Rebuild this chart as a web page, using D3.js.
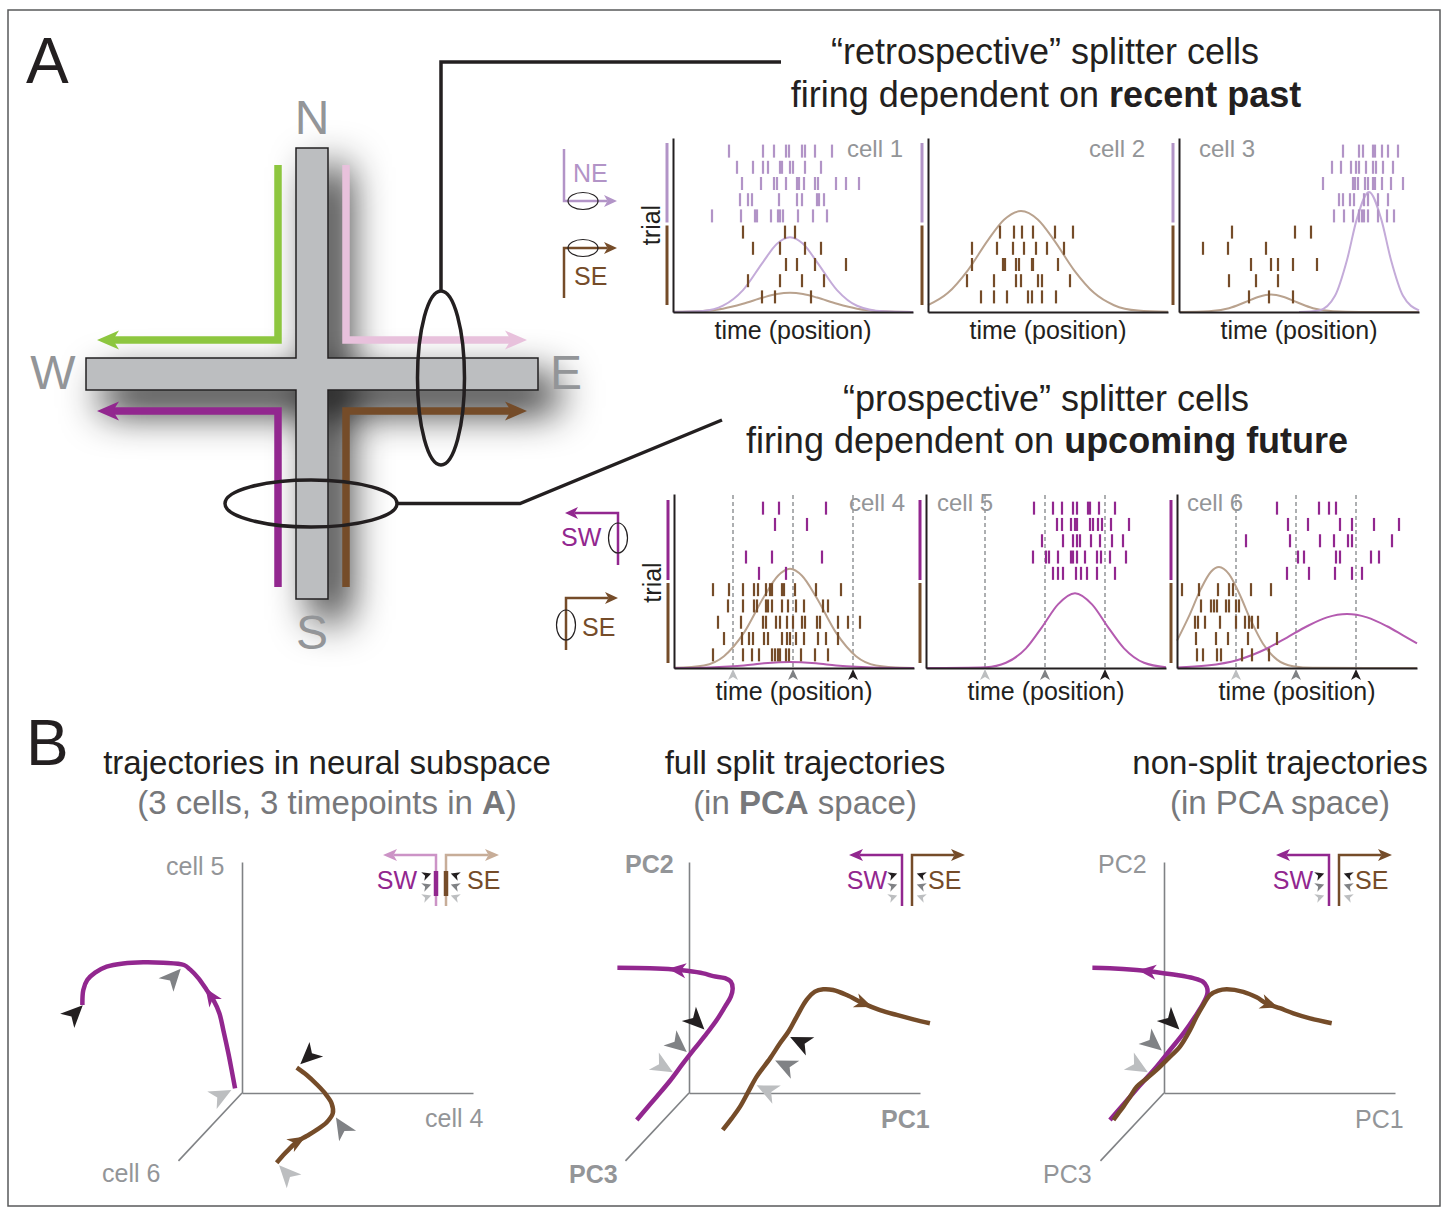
<!DOCTYPE html>
<html><head><meta charset="utf-8">
<script src="https://cdn.jsdelivr.net/npm/d3@7/dist/d3.min.js"></script>
<style>html,body{margin:0;padding:0;background:#fff}svg{display:block}</style>
</head><body>
<script>
// ================= DATA =================
// time axis of every raster panel runs 0–120 (arbitrary position units)
const timepoints = [29.5, 59.5, 89.5];
const retroLabels = ["cell 1", "cell 2", "cell 3"];
const prospLabels = ["cell 4", "cell 5", "cell 6"];
const routeLabels = ["NE", "SE", "SW"];

// spike times, one array per trial
const cell1NE = [[28,45,50.5,56.5,58,64.5,66,71,79.5],[32,40,45,47.5,53.5,54.5,58.5,60,66,74],[34.5,44,50.5,52,56.5,62,63,65.5,71,72.5,81.5,86.5,93],[33.5,37.5,39.5,53,62,64.5,72,73,75.5],[19.5,34,41,42,49,52.5,53.5,55,62.5,70,77]];
const cell1SE = [[35,56,61],[40,53.5,66,74],[56.5,62,71,86.5],[37.5,53.5,64.5,75.5],[44.5,51,69]];
const cell2NE = [[],[],[],[],[]];
const cell2SE = [[36,43,47,52.5,63.5,72.5],[22,34.5,42.5,48,54,59.5,68],[22,37.5,38.5,44,45.5,52,52.5,65],[19.5,33,44,46.5,55,57,71],[26.5,33,39.5,50,52,57,64]];
const cell3NE = [[82,90,92,97,98,101.5,104.5,109.5],[76.5,81,86,88.5,90,93.5,97,98.5,102,107],[72,87,88,89.5,93,94.5,97,98,101.5,106,112],[80,82,85.5,87.5,92.5,94.5,99.5,104.5],[77.5,82.5,87,90,91.5,92.5,94.5,99.5,104,107.5]];
const cell3SE = [[26.5,58,66],[12,24.5,43.5],[36,46,49.5,57,69],[25,38.5,49.5],[35,45,57]];
const cell4SW = [[44.5,52.5,76],[50.5,66.5],[],[36,49,74],[42.5,56]];
const cell4SE = [[19.5,27.5,34.5,40,42,46,48,49,54,55,60.5,71,83.5],[27,34.5,40,41.5,46,47,49,54,57,61,65,74.5,77],[22,33.5,44.5,46,51,53,56.5,59.5,64,65.5,71.5,73,82,87,93],[25,34,37.5,39.5,45,47,54,56.5,58,61,65,72,76,82],[19.5,34.5,39,42.5,49,50.5,52,53,56,57.5,63.5,70.5,77]];
const cell5SW = [[54,63.5,68,73.5,75.5,81,82,86.5,94.5],[65.5,68,72.5,74.5,75.5,82,83.5,86,88,92.5,101.5],[58,68.5,73.5,75.5,77,82.5,87,93,98.5],[53.5,60,61.5,66,72.5,73.5,75.5,79.5,85.5,87.5,92,100],[63.5,66,68.5,75,77.5,80.5,85.5,94.5]];
const cell5SE = [[],[],[],[],[]];
const cell6SW = [[50,71,76,79.5],[55.5,65.5,81.5,87.5,98.5,111],[34.5,56.5,71.5,78.5,85.5,87.5,107.5],[60.5,63.5,79.5,81.5,97,101],[55,66,79,87.5,92.5]];
const cell6SE = [[2.5,11,20.5,26,28,37,47],[12,17,18.5,20,24.5,26,29.5,31],[9,10.5,14,21.5,29.5,34,36,37.5,40.5],[9.5,19.5,25.5,35.5,50],[10,13,20,22,32.5,37.5,46]];

// firing-rate curves [time, rate 0–100]
const cell1RateNE = [[0,0],[15,0.6],[25,3.6],[35,12.6],[45,28.7],[52,39.2],[58.5,43],[65,39.2],[72,28.7],[82,12.6],[92,3.6],[105,0.4],[120,0]];
const cell1RateSE = [[0,0.1],[15,0.6],[25,1.9],[35,4.7],[45,8.3],[52,10.3],[58.5,11],[65,10.3],[72,8.3],[82,4.7],[92,1.9],[105,0.4],[120,0]];
const cell2RateSE = [[0,3.9],[10,11],[20,24.1],[30,41.3],[38,53],[46.5,58],[55,53],[63,41.3],[73,24.1],[83,11],[93,3.9],[105,0.8],[120,0.1]];
const cell3RateSE = [[0,0],[15,0.4],[25,2.2],[33,5.6],[40,8.8],[46,10],[52,8.8],[59,5.6],[67,2.2],[77,0.4],[90,0],[120,0]];
const cell3RateNE = [[60,0],[70,0.9],[78,9.3],[84,29.9],[89,53.8],[95,69],[101,53.8],[106,29.9],[112,9.3],[120,0.9]];
const cell4RateSE = [[0,0.1],[15,1.5],[25,6.8],[35,20.3],[45,41],[52,53],[58,57],[64,53],[71,41],[81,20.3],[91,6.8],[101,1.5],[115,0.1],[120,0]];
const cell4RateSW = [[0,0],[15,0.2],[25,0.65],[35,1.5],[45,2.7],[58,3.5],[71,2.7],[81,1.5],[91,0.65],[101,0.2],[120,0]];
const cell5RateSW = [[0,0],[30,0.5],[40,3],[50,11.3],[58,23.5],[66,36.6],[74.5,43],[83,36.6],[91,23.5],[99,11.3],[109,3],[120,0.45]];
const cell6RateSE = [[0,15.7],[6,29.8],[12,45.6],[17,55.3],[21,58],[26,53.9],[31,43.1],[37,27.2],[43,13.9],[50,4.8],[58,1],[68,0.1],[120,0]];
const cell6RateSW = [[0,0.3],[15,1.4],[30,4.5],[45,11.2],[55,17.5],[65,24],[75,29.1],[85,31],[95,29.1],[105,24],[113,18.8],[120,14.2]];

// trajectories, projected [horizontal axis, vertical axis] (0–100 = axis length)
const subspaceSW = [[-3.0,2.0],[-4.5,10.0],[-5.9,17.2],[-8.1,27.3],[-9.8,34.5],[-12.4,40.3],[-15.3,44.6],[-18.9,49.7],[-22.5,53.5],[-25.1,55.4],[-34.1,56.4],[-42.7,56.6],[-51.4,56.1],[-58.6,54.7],[-63.6,52.1],[-67.0,48.9],[-68.7,44.6],[-69.1,38.1]];
const subspaceSE = [[15.0,-30.2],[17.9,-26.8],[20.8,-23.9],[23.7,-21.1],[28.0,-18.6],[32.3,-16.0],[36.6,-12.8],[39.3,-8.8],[38.8,-4.5],[35.9,-0.1],[32.3,3.8],[28.0,7.8],[23.7,11.0]];
const splitSW = [[-22.6,-11.7],[-18.3,-6.6],[-14.0,-1.6],[-8.2,5.3],[-2.5,12.9],[2.6,19.4],[7.7,25.8],[12.0,31.6],[15.6,37.4],[18.1,41.7],[18.9,45.3],[18.1,48.2],[15.6,49.7],[10.5,50.6],[6.2,51.8],[-1.0,52.9],[-6.8,53.5],[-16.9,54.0],[-31.0,54.2]];
const splitSE = [[14.6,-16.0],[18.5,-11.0],[22.1,-5.9],[25.7,0.6],[29.3,7.1],[35.1,15.0],[39.4,21.5],[43.0,26.5],[46.6,33.0],[50.9,40.3],[54.5,43.9],[58.1,44.9],[62.4,44.6],[68.3,42.4],[75.4,38.8],[82.7,35.9],[89.9,33.8],[97.1,31.9],[104.3,30.2]];
const nonsplitSW = [[-23.4,-11.7],[-19.0,-6.6],[-14.7,-1.6],[-9.0,4.9],[-3.2,11.4],[2.6,18.6],[8.4,25.8],[13.4,33.0],[17.0,38.8],[18.8,43.2],[18.5,46.0],[16.8,48.2],[12.7,49.7],[5.5,51.1],[-1.7,52.1],[-11.8,53.2],[-23.4,54.0],[-31.0,54.2]];
const nonsplitSE = [[-21.9,-11.7],[-19.8,-8.8],[-17.6,-5.9],[-14.7,-1.6],[-11.8,2.7],[-7.5,6.3],[-3.2,10.0],[1.9,15.0],[6.9,20.1],[11.3,27.3],[14.1,33.0],[17.0,38.1],[19.9,42.4],[23.5,44.3],[27.1,44.9],[34.3,43.8],[40.1,41.4],[44.4,38.8],[50.2,36.7],[56.0,34.5],[63.2,32.3],[72.6,30.2]];
// timepoint markers (early, middle, late) near each trajectory
const subspaceMarkSW = [[-8.8,-0.9],[-29.7,50.3],[-72.3,34.6]];
const subspaceMarkSE = [[19.3,-34.8],[43.2,-14.6],[28.7,15.7]];
const splitMarkSW = [[-11.1,11.4],[-4.6,20.8],[3.3,30.9]];
const splitMarkSE = [[33.6,1.3],[41.6,12.1],[48.1,22.2]];
const nonsplitMarkSW = [[-11.1,11.4],[-4.6,21.5],[3.3,30.9]];
const axisNamesB = [["cell 4","cell 5","cell 6"],["PC1","PC2","PC3"],["PC1","PC2","PC3"]];

// ================= STYLE =================
const COL = {ink:"#231f20", gray:"#939598", axisGray:"#808285", light:"#bcbec0",
  purple:"#92278f", lav:"#b294c7", lavCurve:"#c4abd9", brown:"#754c29", tan:"#b9a28e", magCurve:"#b45bb0",
  green:"#8dc63f", pink:"#e8c1dc", maze:"#bcbec0", purpleSoft:"#cc93c6", brownSoft:"#c7ad98", sub:"#77787b"};
const MARK = [COL.light, COL.axisGray, COL.ink];
const FONT = "'Liberation Sans', Arial, Helvetica, sans-serif";

const svg = d3.select("body").append("svg").attr("width",1447).attr("height",1207).style("font-family",FONT);
const defs = svg.append("defs");
const fl = defs.append("filter").attr("id","shadow").attr("x","-50%").attr("y","-50%").attr("width","210%").attr("height","210%");
fl.append("feGaussianBlur").attr("in","SourceAlpha").attr("stdDeviation",20).attr("result","blur");
fl.append("feOffset").attr("in","blur").attr("dx",18).attr("dy",20).attr("result","off");
fl.append("feFlood").attr("flood-color","#000").attr("flood-opacity",0.95).attr("result","fc");
fl.append("feComposite").attr("in","fc").attr("in2","off").attr("operator","in").attr("result","sh");
const fm = fl.append("feMerge"); fm.append("feMergeNode").attr("in","sh"); fm.append("feMergeNode").attr("in","SourceGraphic");

svg.append("rect").attr("x",8).attr("y",10).attr("width",1432).attr("height",1196)
  .attr("fill","none").attr("stroke","#58595b").attr("stroke-width",1.5);

// ---------- helpers ----------
function barb(len, half, notch){ return `M0,0L${-len},${-half}L${-len+notch},0L${-len},${half}Z`; }
function arrowAt(g, x, y, ang, len, half, notch, color){
  g.append("path").attr("d",barb(len,half,notch)).attr("transform",`translate(${x},${y}) rotate(${ang})`).attr("fill",color);
}
function arrowLine(g, pts, color, width, len, half, notch){
  const n = pts.length, [x1,y1] = pts[n-2], [x2,y2] = pts[n-1];
  const a = Math.atan2(y2-y1, x2-x1), back = len-notch;
  const p = pts.slice(0,n-1).concat([[x2-Math.cos(a)*back, y2-Math.sin(a)*back]]);
  g.append("path").attr("d",d3.line()(p)).attr("fill","none").attr("stroke",color).attr("stroke-width",width).attr("stroke-linejoin","miter");
  arrowAt(g, x2, y2, a*180/Math.PI, len, half, notch, color);
}
function txt(g, x, y, s, o={}){
  const t = g.append("text").attr("x",x).attr("y",y).text(s).attr("font-size",o.size||25)
    .attr("fill",o.fill||COL.ink).attr("text-anchor",o.anchor||"start");
  if(o.weight) t.attr("font-weight",o.weight);
  return t;
}
function rich(g, x, y, parts, o={}){
  const t = g.append("text").attr("x",x).attr("y",y).attr("font-size",o.size||25)
    .attr("fill",o.fill||COL.ink).attr("text-anchor",o.anchor||"middle");
  parts.forEach(([s,b])=>t.append("tspan").text(s).attr("font-weight",b?700:400));
  return t;
}

// ---------- panel letters ----------
txt(svg, 26, 83, "A", {size:64});
txt(svg, 26, 765, "B", {size:64});

// ---------- maze ----------
const maze = svg.append("g");
maze.append("path").attr("d","M296,148H328V358H538V390H328V599H296V390H86V358H296Z")
  .attr("fill",COL.maze).attr("stroke",COL.ink).attr("stroke-width",1.5).attr("filter","url(#shadow)");
arrowLine(maze, [[278,165],[278,340],[97,340]], COL.green, 7.5, 22, 9.5, 6);
arrowLine(maze, [[346,165],[346,340],[527,340]], COL.pink, 7.5, 22, 9.5, 6);
arrowLine(maze, [[278,587],[278,411],[97,411]], COL.purple, 7.5, 22, 9.5, 6);
arrowLine(maze, [[346,587],[346,411],[527,411]], COL.brown, 7.5, 22, 9.5, 6);
[["N",312,134],["S",312,649],["W",53,389],["E",566,389]].forEach(([s,x,y])=>txt(maze,x,y,s,{size:48,fill:COL.gray,anchor:"middle"}));
maze.append("ellipse").attr("cx",441).attr("cy",378).attr("rx",23.5).attr("ry",87).attr("fill","none").attr("stroke",COL.ink).attr("stroke-width",3.5);
maze.append("ellipse").attr("cx",311).attr("cy",503.5).attr("rx",86).attr("ry",23.5).attr("fill","none").attr("stroke",COL.ink).attr("stroke-width",3.5);
maze.append("path").attr("d","M441,291V62H781").attr("fill","none").attr("stroke",COL.ink).attr("stroke-width",3.5);
maze.append("path").attr("d","M397,503.5H520L722,420").attr("fill","none").attr("stroke",COL.ink).attr("stroke-width",3.5);

// ---------- A titles ----------
rich(svg, 1045, 64, [["“retrospective” splitter cells",0]], {size:36});
rich(svg, 1046, 107, [["firing dependent on ",0],["recent past",1]], {size:36});
rich(svg, 1046, 411, [["“prospective” splitter cells",0]], {size:36});
rich(svg, 1047, 453, [["firing dependent on ",0],["upcoming future",1]], {size:36});

// ---------- A route legends ----------
const lg = svg.append("g");
arrowLine(lg, [[564,149],[564,201],[617,201]], COL.lav, 2.5, 13, 6, 3.5);
txt(lg, 573, 182, routeLabels[0], {fill:COL.lav});
lg.append("ellipse").attr("cx",583).attr("cy",201).attr("rx",15).attr("ry",8.5).attr("fill","none").attr("stroke",COL.ink).attr("stroke-width",1.2);
arrowLine(lg, [[564,298],[564,248],[617,248]], COL.brown, 2.5, 13, 6, 3.5);
txt(lg, 574, 285, routeLabels[1], {fill:COL.brown});
lg.append("ellipse").attr("cx",583).attr("cy",248).attr("rx",15).attr("ry",8.5).attr("fill","none").attr("stroke",COL.ink).attr("stroke-width",1.2);
arrowLine(lg, [[618,565],[618,513],[565,513]], COL.purple, 2.5, 13, 6, 3.5);
txt(lg, 561, 546, routeLabels[2], {fill:COL.purple});
lg.append("ellipse").attr("cx",618).attr("cy",538).attr("rx",9.5).attr("ry",15).attr("fill","none").attr("stroke",COL.ink).attr("stroke-width",1.2);
arrowLine(lg, [[566,650],[566,598],[618,598]], COL.brown, 2.5, 13, 6, 3.5);
txt(lg, 582, 636, routeLabels[1], {fill:COL.brown});
lg.append("ellipse").attr("cx",566).attr("cy",625).attr("rx",9.5).attr("ry",15).attr("fill","none").attr("stroke",COL.ink).attr("stroke-width",1.2);

// ---------- raster panels ----------
function rasterPanel(c){
  const g = svg.append("g");
  const x = d3.scaleLinear().domain([0,120]).range([c.axisX, c.axisX+240]);
  const r = d3.scaleLinear().domain([0,100]).range([c.base, c.base-174]);
  const rows = d3.scaleBand().domain(d3.range(10)).range(c.rowRange);
  const bw = rows.bandwidth();
  g.append("line").attr("x1",c.axisX-6).attr("x2",c.axisX-6).attr("y1",rows(0)).attr("y2",rows(4)+bw-1.5).attr("stroke",c.topColor).attr("stroke-width",3);
  g.append("line").attr("x1",c.axisX-6).attr("x2",c.axisX-6).attr("y1",rows(5)+1.5).attr("y2",rows(9)+bw).attr("stroke",COL.brown).attr("stroke-width",3);
  if(c.dashed){
    g.selectAll(null).data(timepoints).enter().append("line")
      .attr("x1",d=>x(d)).attr("x2",d=>x(d)).attr("y1",c.base-173).attr("y2",c.base)
      .attr("stroke",COL.gray).attr("stroke-width",1.5).attr("stroke-dasharray","4,3");
  }
  const ln = d3.line().x(p=>x(p[0])).y(p=>r(p[1])).curve(d3.curveMonotoneX);
  c.rates.forEach(([d,col])=>g.append("path").datum(d).attr("d",ln).attr("fill","none").attr("stroke",col).attr("stroke-width",2));
  const trials = c.top.map((s,i)=>({i, s, col:c.topColor})).concat(c.bot.map((s,i)=>({i:i+5, s, col:COL.brown})));
  trials.forEach(tr=>{
    g.selectAll(null).data(tr.s).enter().append("rect")
      .attr("x",t=>x(t)-1.1).attr("y",rows(tr.i)+bw/2-6.5).attr("width",2.2).attr("height",13).attr("fill",tr.col);
  });
  const ax = g.append("g").attr("transform",`translate(0,${c.base})`).call(d3.axisBottom(x).tickValues([]).tickSizeOuter(0));
  const ay = g.append("g").attr("transform",`translate(${c.axisX},0)`).call(d3.axisLeft(r).tickValues([]).tickSizeOuter(0));
  [ax,ay].forEach(a=>a.select(".domain").attr("stroke",COL.ink).attr("stroke-width",2));
  if(c.dashed) timepoints.forEach((t,i)=>arrowAt(g, x(t), c.base+1, -90, 11, 5, 3, MARK[i]));
  txt(g, c.axisX+c.lx, c.labelY, c.label, {size:24, fill:COL.gray, anchor:c.anchor});
  txt(g, c.axisX+120, c.base+(c.dashed?32:27), "time (position)", {size:25, anchor:"middle"});
  if(c.trial) g.append("text").attr("transform",`translate(${c.axisX-13},${(c.rowRange[0]+c.rowRange[1])/2+1}) rotate(-90)`)
    .attr("text-anchor","middle").attr("font-size",25).attr("fill",COL.ink).text("trial");
}
const topCfg = {base:312, rowRange:[143,305], topColor:COL.lav, labelY:157, dashed:false};
rasterPanel({...topCfg, axisX:673, top:cell1NE, bot:cell1SE, rates:[[cell1RateSE,COL.tan],[cell1RateNE,COL.lavCurve]], label:retroLabels[0], lx:230, anchor:"end", trial:true});
rasterPanel({...topCfg, axisX:928, top:cell2NE, bot:cell2SE, rates:[[cell2RateSE,COL.tan]], label:retroLabels[1], lx:217, anchor:"end"});
rasterPanel({...topCfg, axisX:1179, top:cell3NE, bot:cell3SE, rates:[[cell3RateSE,COL.tan],[cell3RateNE,COL.lavCurve]], label:retroLabels[2], lx:20, anchor:"start"});
const botCfg = {base:668, rowRange:[500,663], topColor:COL.purple, labelY:511, dashed:true};
rasterPanel({...botCfg, axisX:674, top:cell4SW, bot:cell4SE, rates:[[cell4RateSE,COL.tan],[cell4RateSW,COL.magCurve]], label:prospLabels[0], lx:231, anchor:"end", trial:true});
rasterPanel({...botCfg, axisX:926, top:cell5SW, bot:cell5SE, rates:[[cell5RateSW,COL.magCurve]], label:prospLabels[1], lx:11, anchor:"start"});
rasterPanel({...botCfg, axisX:1177, top:cell6SW, bot:cell6SE, rates:[[cell6RateSE,COL.tan],[cell6RateSW,COL.magCurve]], label:prospLabels[2], lx:10, anchor:"start"});

// ---------- B titles ----------
rich(svg, 327, 774, [["trajectories in neural subspace",0]], {size:33});
rich(svg, 327, 814, [["(3 cells, 3 timepoints in ",0],["A",1],[")",0]], {size:33, fill:COL.sub});
rich(svg, 805, 774, [["full split trajectories",0]], {size:33});
rich(svg, 805, 814, [["(in ",0],["PCA",1],[" space)",0]], {size:33, fill:COL.sub});
rich(svg, 1280, 774, [["non-split trajectories",0]], {size:33});
rich(svg, 1280, 814, [["(in PCA space)",0]], {size:33, fill:COL.sub});

// ---------- trajectory panels ----------
const chev = "M4.5,0L-4.5,-4.5L-2,0L-4.5,4.5Z";
const dart = "M11,0L-11,-10L-5,0L-11,10Z";
function trajPanel(c){
  const g = svg.append("g");
  const x = d3.scaleLinear().domain([0,100]).range([c.ox, c.ox+231]);
  const y = d3.scaleLinear().domain([0,100]).range([c.oy, c.oy-231]);
  const ax = g.append("g").attr("transform",`translate(0,${c.oy})`).call(d3.axisBottom(x).tickValues([]).tickSizeOuter(0));
  const ay = g.append("g").attr("transform",`translate(${c.ox},0)`).call(d3.axisLeft(y).tickValues([]).tickSizeOuter(0));
  [ax,ay].forEach(a=>a.select(".domain").attr("stroke",COL.axisGray).attr("stroke-width",1.6));
  g.append("line").attr("x1",x(0)).attr("y1",y(0)).attr("x2",x(-27.5)).attr("y2",y(-29.4)).attr("stroke",COL.axisGray).attr("stroke-width",1.6);
  const names = c.names, wt = c.bold ? 700 : 400;
  txt(g, c.lab[0][0], c.lab[0][1], names[0], {fill:COL.gray, weight:wt});
  txt(g, c.lab[1][0], c.lab[1][1], names[1], {fill:COL.gray, weight:wt});
  txt(g, c.lab[2][0], c.lab[2][1], names[2], {fill:COL.gray, weight:wt});
  const line = d3.line().x(d=>x(d[0])).y(d=>y(d[1])).curve(d3.curveCatmullRom.alpha(0.5));
  c.trajs.forEach(t=>{
    g.append("path").datum(t.d).attr("d",line).attr("fill","none").attr("stroke",t.col).attr("stroke-width",4.5);
    const i = Math.floor(t.f), fr = t.f-i, a = t.d[i], b = t.d[i+1];
    const px = x(a[0]+(b[0]-a[0])*fr), py = y(a[1]+(b[1]-a[1])*fr);
    const ang = Math.atan2(y(b[1])-y(a[1]), x(b[0])-x(a[0]));
    arrowAt(g, px+Math.cos(ang)*8, py+Math.sin(ang)*8, ang*180/Math.PI, 18, 7.5, 5, t.col);
  });
  c.marks.forEach(mk=>{
    g.selectAll(null).data(mk.d).enter().append("path").attr("d",dart)
      .attr("transform",(d,i)=>`translate(${x(d[0])},${y(d[1])}) rotate(${mk.ang[i]})`).attr("fill",(d,i)=>MARK[i]);
  });
  // route legend inset
  const L = c.leg, sw = L.soft ? COL.purpleSoft : COL.purple, se = L.soft ? COL.brownSoft : COL.brown;
  arrowLine(g, [[L.b,906],[L.b,855],[L.b-53,855]], sw, 2.5, 14, 6, 3.5);
  arrowLine(g, [[L.b+10,906],[L.b+10,855],[L.b+63,855]], se, 2.5, 14, 6, 3.5);
  if(L.soft){
    g.append("line").attr("x1",L.b).attr("x2",L.b).attr("y1",871).attr("y2",896).attr("stroke",COL.purple).attr("stroke-width",4.5);
    g.append("line").attr("x1",L.b+10).attr("x2",L.b+10).attr("y1",871).attr("y2",896).attr("stroke",COL.brown).attr("stroke-width",4.5);
  }
  txt(g, L.swEnd, 889, "SW", {fill:COL.purple, anchor:"end"});
  txt(g, L.seStart, 889, "SE", {fill:COL.brown});
  [875,886,897].forEach((yy,i)=>{
    g.append("path").attr("d",chev).attr("transform",`translate(${L.cs},${yy}) rotate(-20)`).attr("fill",MARK[2-i]);
    g.append("path").attr("d",chev).attr("transform",`translate(${L.ce},${yy}) rotate(200)`).attr("fill",MARK[2-i]);
  });
}
trajPanel({ox:242, oy:1093, names:[axisNamesB[0][1],axisNamesB[0][0],axisNamesB[0][2]], bold:false,
  lab:[[166,875],[425,1127],[102,1182]],
  trajs:[{d:subspaceSW, col:COL.purple, f:5.5},{d:subspaceSE, col:COL.brown, f:3.2}],
  marks:[{d:subspaceMarkSW, ang:[-28,-48,-45]},{d:subspaceMarkSE, ang:[-133,-122,137]}],
  leg:{b:436, soft:true, swEnd:417, seStart:467, cs:427, ce:455}});
trajPanel({ox:689, oy:1093, names:[axisNamesB[1][1],axisNamesB[1][0],axisNamesB[1][2]], bold:true,
  lab:[[625,873],[881,1128],[569,1183]],
  trajs:[{d:splitSW, col:COL.purple, f:15.8},{d:splitSE, col:COL.brown, f:14.1}],
  marks:[{d:splitMarkSW, ang:[30,40,45]},{d:splitMarkSE, ang:[-155,-155,-155]}],
  leg:{b:902, soft:false, swEnd:887, seStart:928, cs:893, ce:921}});
trajPanel({ox:1164, oy:1093, names:[axisNamesB[2][1],axisNamesB[2][0],axisNamesB[2][2]], bold:false,
  lab:[[1098,873],[1355,1128],[1043,1183]],
  trajs:[{d:nonsplitSW, col:COL.purple, f:14.6},{d:nonsplitSE, col:COL.brown, f:17.3}],
  marks:[{d:nonsplitMarkSW, ang:[30,40,45]}],
  leg:{b:1329, soft:false, swEnd:1313, seStart:1355, cs:1320, ce:1348}});
</script>
</body></html>
